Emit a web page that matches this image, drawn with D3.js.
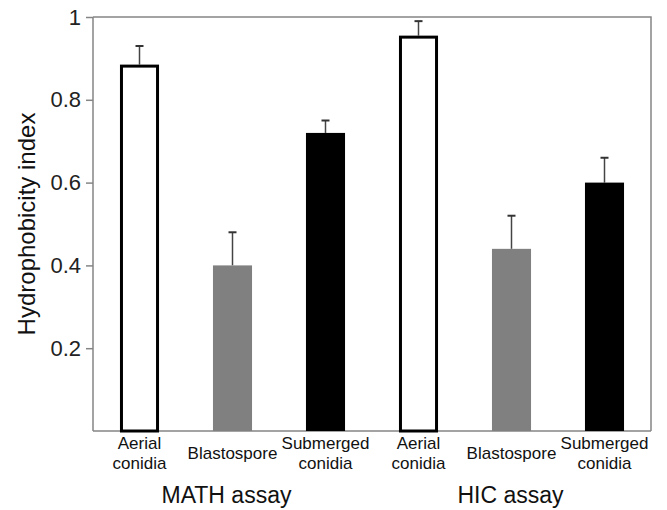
<!DOCTYPE html>
<html>
<head>
<meta charset="utf-8">
<script src="https://cdn.jsdelivr.net/npm/d3@7"></script>
<style>
  body { margin: 0; background: #fff; }
  svg { display: block; font-family: "Liberation Sans", Arial, sans-serif; }
</style>
</head>
<body>
<svg id="chart"></svg>
<script>
// data
var groups = ["MATH assay", "HIC assay"];
var types = ["Aerial conidia", "Blastospore", "Submerged conidia"];
var typeLabels = [["Aerial", "conidia"], ["Blastospore"], ["Submerged", "conidia"]];
var mathValues = [0.885, 0.40, 0.72];
var mathErrors = [0.045, 0.08, 0.03];
var hicValues = [0.955, 0.44, 0.60];
var hicErrors = [0.035, 0.08, 0.06];
var yTicks = [0.2, 0.4, 0.6, 0.8, 1];

var svgWidth = 667, svgHeight = 510;
var margin = { top: 17, right: 16, bottom: 79, left: 93 };

var svg = d3.select('#chart')
    .attr('width', svgWidth)
    .attr('height', svgHeight);

// build the rows for the bars
var rows = [];
groups.forEach(function(g, gi) {
    var vals = gi === 0 ? mathValues : hicValues;
    var errs = gi === 0 ? mathErrors : hicErrors;
    types.forEach(function(t, ti) {
        rows.push({ key: g + '|' + t, group: g, type: ti, value: vals[ti], err: errs[ti] });
    });
});

var x = d3.scaleBand()
    .domain(rows.map(function(d) { return d.key; }))
    .range([margin.left, svgWidth - margin.right])
    .paddingInner(0.58)
    .paddingOuter(0.29);

var y = d3.scaleLinear()
    .domain([0, 1])
    .range([svgHeight - margin.bottom, margin.top]);

var fills = ['#fff', '#808080', '#000'];
var axisColor = '#858585';

// frame (top and right)
svg.append('path')
    .attr('d', 'M' + margin.left + ',' + y(1) + 'H' + (svgWidth - margin.right) + 'V' + y(0))
    .attr('fill', 'none')
    .attr('stroke', axisColor)
    .attr('stroke-width', 1.5);

// y axis
var yAxis = svg.append('g')
    .attr('transform', 'translate(' + margin.left + ',0)')
    .call(d3.axisLeft(y).tickValues(yTicks).tickFormat(d3.format('')).tickSize(7).tickSizeOuter(0).tickPadding(5));
yAxis.select('.domain').attr('stroke', axisColor).attr('stroke-width', 1.5)
    .attr('d', 'M0,' + y(0) + 'V' + y(1));
yAxis.selectAll('.tick line').attr('stroke', axisColor).attr('stroke-width', 1.5);
yAxis.selectAll('.tick text')
    .attr('fill', '#222')
    .style('font-size', '22px')
    .style('font-family', '"Liberation Sans", Arial, sans-serif');

// x axis line
svg.append('line')
    .attr('x1', margin.left).attr('x2', svgWidth - margin.right)
    .attr('y1', y(0)).attr('y2', y(0))
    .attr('stroke', axisColor).attr('stroke-width', 1.5);

// error bars (upper only)
var errG = svg.append('g');
rows.forEach(function(d) {
    var cx = x(d.key) + x.bandwidth() / 2;
    errG.append('line')
        .attr('x1', cx).attr('x2', cx)
        .attr('y1', y(d.value)).attr('y2', y(d.value + d.err))
        .attr('stroke', '#444').attr('stroke-width', 1.5);
    errG.append('line')
        .attr('x1', cx - 4).attr('x2', cx + 4)
        .attr('y1', y(d.value + d.err)).attr('y2', y(d.value + d.err))
        .attr('stroke', '#333').attr('stroke-width', 2);
});

// bars
svg.append('g').selectAll('rect')
    .data(rows)
    .enter().append('rect')
    .attr('x', function(d) { return d.type === 0 ? x(d.key) + 1.5 : x(d.key); })
    .attr('width', function(d) { return d.type === 0 ? x.bandwidth() - 3 : x.bandwidth(); })
    .attr('y', function(d) { return y(d.value) + (d.type === 0 ? 1.5 : 0); })
    .attr('height', function(d) { return y(0) - y(d.value) - (d.type === 0 ? 1.5 : 0); })
    .attr('fill', function(d) { return fills[d.type]; })
    .attr('stroke', function(d) { return d.type === 0 ? '#000' : 'none'; })
    .attr('stroke-width', 3);

// category labels
var labG = svg.append('g');
rows.forEach(function(d) {
    var cx = x(d.key) + x.bandwidth() / 2;
    var lines = typeLabels[d.type];
    var t = labG.append('text')
        .attr('x', cx)
        .attr('text-anchor', 'middle')
        .attr('fill', '#111')
        .style('font-size', '17px');
    if (lines.length === 1) {
        t.attr('y', 459).text(lines[0]);
    } else {
        lines.forEach(function(l, i) {
            t.append('tspan').attr('x', cx).attr('y', 449 + i * 20).text(l);
        });
    }
});

// group labels
groups.forEach(function(g, gi) {
    var mid = x(g + '|' + types[1]) + x.bandwidth() / 2;
    svg.append('text')
        .attr('x', mid - (gi === 0 ? 6 : 1))
        .attr('y', 503)
        .attr('text-anchor', 'middle')
        .attr('fill', '#111')
        .style('font-size', '23px')
        .text(g);
});

// y axis title
svg.append('text')
    .attr('transform', 'translate(35,' + ((y(0) + y(1)) / 2) + ') rotate(-90)')
    .attr('text-anchor', 'middle')
    .attr('fill', '#111')
    .style('font-size', '24px')
    .text('Hydrophobicity index');
</script>
</body>
</html>
